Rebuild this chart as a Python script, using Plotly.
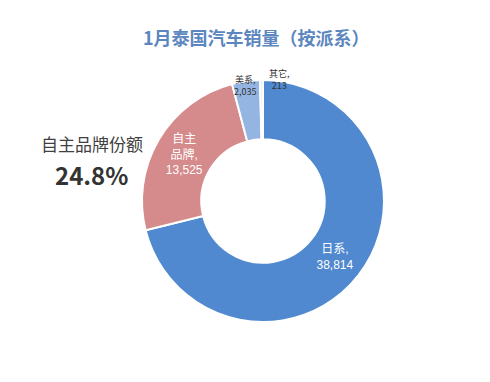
import plotly.graph_objects as go

# Data
labels = ["日系", "自主品牌", "美系", "其它"]
display_labels = ["日系", "自主<br>品牌", "美系", "其它"]
values = [38814, 13525, 2035, 213]
colors = ["#5089CF", "#D58A8B", "#94B4E2", "#E4ECF6"]
title_text = "1月泰国汽车销量（按派系）"
share_label = "自主品牌份额"

total = sum(values)
share = values[1] / total * 100

W, H = 490, 382
cx, cy, R = 263, 201, 121

inside_text = [f"{d},<br>{v:,}" if i < 2 else "" for i, (d, v) in enumerate(zip(display_labels, values))]

fig = go.Figure()
fig.add_trace(go.Pie(
    labels=labels,
    values=values,
    text=inside_text,
    textinfo="text",
    textposition="inside",
    insidetextorientation="horizontal",
    textfont=dict(color="white", size=12, family="Liberation Sans, Noto Sans CJK SC"),
    hole=0.51,
    sort=False,
    direction="clockwise",
    rotation=0,
    marker=dict(colors=colors, line=dict(color="white", width=2)),
    showlegend=False,
    domain=dict(x=[(cx - R) / W, (cx + R) / W],
                y=[(H - cy - R) / H, (H - cy + R) / H]),
))

annotations = [
    dict(text=f"<b>{title_text}</b>", x=256, y=37, showarrow=False,
         font=dict(size=18, color="#5B86C0", family="Noto Sans CJK SC")),
    dict(text=share_label, x=92, y=144, showarrow=False,
         font=dict(size=17, color="#404040", family="Noto Sans CJK SC")),
    dict(text=f"<b>{share:.1f}%</b>", x=91, y=174, showarrow=False,
         font=dict(size=24, color="#333333", family="Noto Sans CJK SC")),
    dict(text=f"{labels[2]},<br>{values[2]:,}", x=245, y=86, showarrow=False,
         font=dict(size=9, color="#333333", family="Noto Sans CJK SC")),
    dict(text=f"{labels[3]},<br>{values[3]:,}", x=279, y=79, showarrow=False,
         font=dict(size=9, color="#333333", family="Noto Sans CJK SC")),
]
for a in annotations:
    a["xref"] = "paper"
    a["yref"] = "paper"
    a["x"] = a["x"] / W
    a["y"] = 1 - a["y"] / H
    a["xanchor"] = "center"
    a["yanchor"] = "middle"

fig.update_layout(
    width=W, height=H,
    margin=dict(l=0, r=0, t=0, b=0),
    paper_bgcolor="white",
    plot_bgcolor="white",
    annotations=annotations,
)

fig.write_html("out.html", config={"displayModeBar": False},
               post_script="document.body.style.margin='0';")
